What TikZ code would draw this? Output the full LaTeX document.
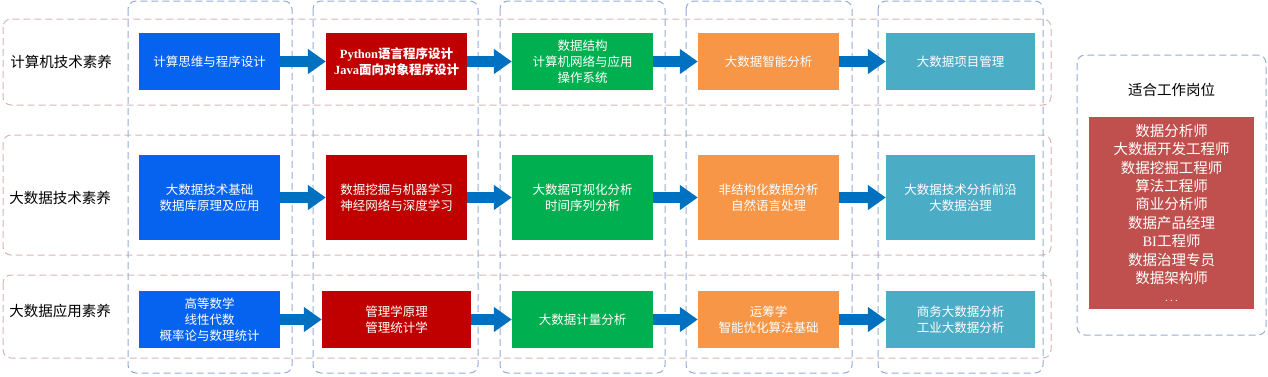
\documentclass[tikz,border=0pt]{standalone}
\usepackage{fontspec}
\setmainfont{Liberation Serif}
\newfontfamily\cjk{Noto Sans CJK SC}
\usetikzlibrary{arrows.meta}
\definecolor{cblue}{HTML}{0563F0}
\definecolor{cred}{HTML}{C00000}
\definecolor{cgreen}{HTML}{00B050}
\definecolor{corange}{HTML}{F79646}
\definecolor{cteal}{HTML}{4BACC6}
\definecolor{cjob}{HTML}{C0504D}
\definecolor{carrow}{HTML}{0070C0}
\definecolor{crowline}{HTML}{D8B4B4}
\definecolor{ccolline}{HTML}{93ACD6}
\tikzset{
  rowbox/.style={draw=crowline, line width=1pt, dash pattern=on 7pt off 4pt, rounded corners=8pt},
  colbox/.style={draw=ccolline, line width=1pt, dash pattern=on 7pt off 4pt, rounded corners=8pt},
  course/.style={draw=none, text=white, align=center, inner sep=0pt,
    font=\cjk\fontsize{12.5}{16}\selectfont, minimum width=141pt},
  h1/.style={minimum height=57pt},
  h2/.style={minimum height=85pt},
  rowlabel/.style={text=black, font=\cjk\fontsize{14.5}{17}\selectfont, inner sep=0pt},
  bigarrow/.style={draw=carrow, line width=11pt, -{Triangle[length=18pt,width=24pt]}, shorten >=0pt},
}
\begin{document}
\begin{tikzpicture}[x=1pt,y=-1pt]
\useasboundingbox (0,0) rectangle (1268,376);
% row frames
\draw[rowbox] (3,19) rectangle (1051,105);
\draw[rowbox] (3,135) rectangle (1051,255);
\draw[rowbox] (3,275) rectangle (1051,358);
% column frames
\draw[colbox] (128,1) rectangle (292,373);
\draw[colbox] (313,1) rectangle (478,373);
\draw[colbox] (500,1) rectangle (665,373);
\draw[colbox] (686,1) rectangle (852,373);
\draw[colbox] (878,1) rectangle (1043,373);
% job frame
\draw[colbox] (1077,55) rectangle (1266,335);

% row labels
\node[rowlabel] (l1) at (61,62) {计算机技术素养};
\node[rowlabel] (l2) at (60,198) {大数据技术素养};
\node[rowlabel] (l3) at (60,311) {大数据应用素养};

% row 1
\node[course,h1,fill=cblue] (a1) at (209.5,61.5) {计算思维与程序设计};
\node[course,h1,fill=cred,font=\cjk\bfseries\fontsize{12.5}{16}\selectfont] (a2) at (396.5,61.5) {{\rmfamily\bfseries Python}语言程序设计\\{\rmfamily\bfseries Java}面向对象程序设计};
\node[course,h1,fill=cgreen] (a3) at (582.5,61.5) {数据结构\\计算机网络与应用\\操作系统};
\node[course,h1,fill=corange] (a4) at (768.5,61.5) {大数据智能分析};
\node[course,h1,fill=cteal,minimum width=149pt] (a5) at (960.5,61.5) {大数据项目管理};

% row 2
\node[course,h2,fill=cblue] (b1) at (209.5,197.5) {大数据技术基础\\数据库原理及应用};
\node[course,h2,fill=cred] (b2) at (396.5,197.5) {数据挖掘与机器学习\\神经网络与深度学习};
\node[course,h2,fill=cgreen] (b3) at (582.5,197.5) {大数据可视化分析\\时间序列分析};
\node[course,h2,fill=corange] (b4) at (768.5,197.5) {非结构化数据分析\\自然语言处理};
\node[course,h2,fill=cteal,minimum width=149pt] (b5) at (960.5,197.5) {大数据技术分析前沿\\大数据治理};

% row 3
\node[course,h1,fill=cblue] (c1) at (209.5,319.5) {高等数学\\线性代数\\概率论与数理统计};
\node[course,h1,fill=cred,minimum width=149pt] (c2) at (396.5,319.5) {管理学原理\\管理统计学};
\node[course,h1,fill=cgreen] (c3) at (582.5,319.5) {大数据计量分析};
\node[course,h1,fill=corange] (c4) at (768.5,319.5) {运筹学\\智能优化算法基础};
\node[course,h1,fill=cteal,minimum width=149pt] (c5) at (960.5,319.5) {商务大数据分析\\工业大数据分析};

% arrows
\foreach \r in {a,b,c}{
  \draw[bigarrow] (\r1) -- (\r2);
  \draw[bigarrow] (\r2) -- (\r3);
  \draw[bigarrow] (\r3) -- (\r4);
  \draw[bigarrow] (\r4) -- (\r5);
}

% jobs
\node[rowlabel] (jt) at (1171.5,90) {适合工作岗位};
\node[draw=none, fill=cjob, text=white, align=center, inner sep=0pt,
      minimum width=165pt, minimum height=192pt,
      font=\cjk\fontsize{14.5}{18.4}\selectfont] (jobs) at (1171.5,213)
  {数据分析师\\大数据开发工程师\\数据挖掘工程师\\算法工程师\\商业分析师\\数据产品经理\\{\rmfamily BI}工程师\\数据治理专员\\数据架构师\\{\fontsize{10}{18.4}\selectfont .\ .\ .}};
\end{tikzpicture}
\end{document}
